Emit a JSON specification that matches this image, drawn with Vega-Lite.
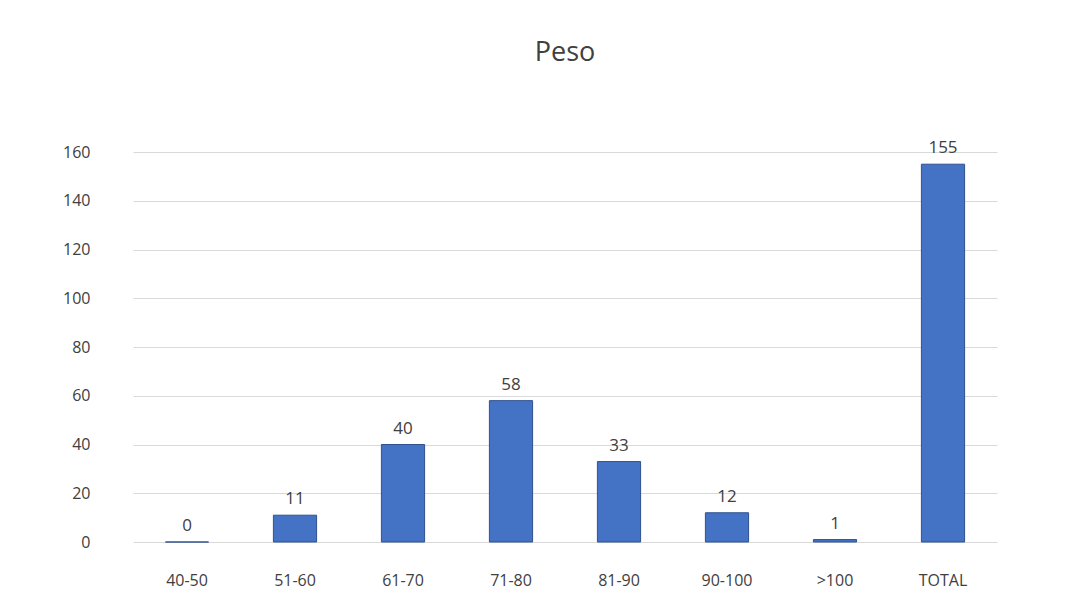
{
  "$schema": "https://vega.github.io/schema/vega-lite/v6.json",
  "autosize": "none",
  "width": 864,
  "height": 390,
  "padding": {"left": 133, "top": 152, "right": 80, "bottom": 73},
  "background": "white",
  "title": {"text": "Peso", "fontSize": 27, "font": "Open Sans", "fontWeight": "normal", "color": "#404040", "offset": 72},
  "data": {"values": [
    {"cat": "40-50", "v": 0},
    {"cat": "51-60", "v": 11},
    {"cat": "61-70", "v": 40},
    {"cat": "71-80", "v": 58},
    {"cat": "81-90", "v": 33},
    {"cat": "90-100", "v": 12},
    {"cat": ">100", "v": 1},
    {"cat": "TOTAL", "v": 155}
  ]},
  "config": {
    "view": {"stroke": null},
    "axis": {"labelFont": "Open Sans", "labelFontSize": 16, "labelColor": "#404040", "domain": false, "ticks": false, "title": null}
  },
  "encoding": {
    "x": {"field": "cat", "type": "nominal", "sort": null, "scale": {"paddingInner": 0.6, "paddingOuter": 0.3}, "axis": {"labelAngle": 0, "labelPadding": 30}},
    "y": {"field": "v", "type": "quantitative", "scale": {"domain": [0, 160]}, "axis": {"values": [0, 20, 40, 60, 80, 100, 120, 140, 160], "gridColor": "#d9d9d9", "labelPadding": 43}}
  },
  "layer": [
    {"mark": {"type": "bar", "color": "#4472C4", "stroke": "#2F528F", "strokeWidth": 1}},
    {"mark": {"type": "text", "dy": -16, "fontSize": 17, "font": "Open Sans", "color": "#404040"}, "encoding": {"text": {"field": "v"}}}
  ]
}
